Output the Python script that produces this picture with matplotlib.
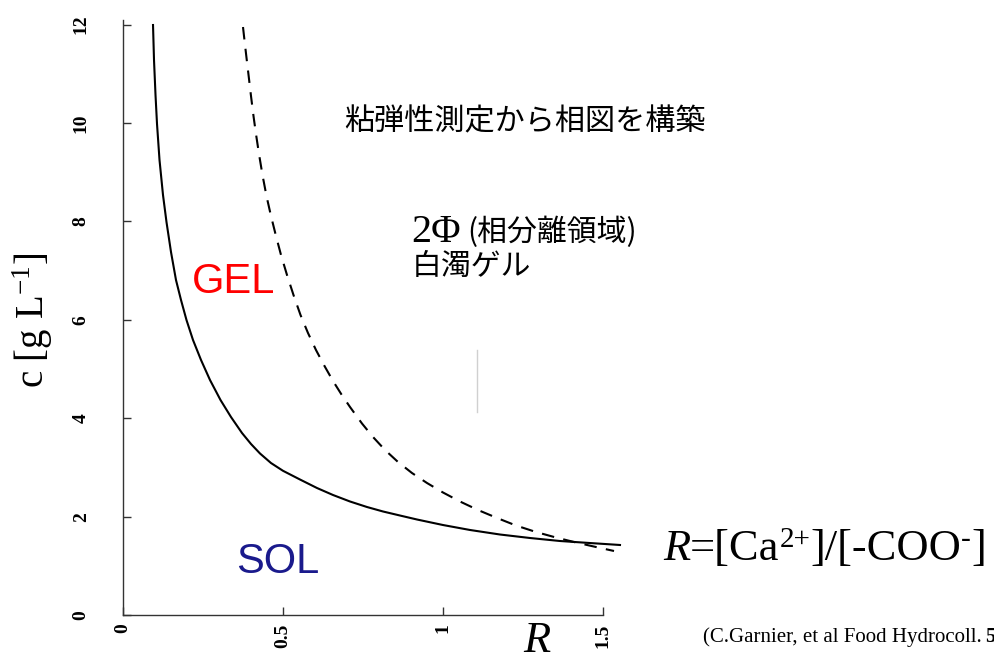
import matplotlib
matplotlib.use("Agg")
import matplotlib.pyplot as plt
import numpy as np

# ---- data ----
# solid line: sol-gel boundary
sol_R = [0.0938, 0.0969, 0.1016, 0.1063, 0.1141, 0.125, 0.1359, 0.150, 0.1656, 0.1813,
         0.1984, 0.2188, 0.2438, 0.2719, 0.3047, 0.3375, 0.3719, 0.400, 0.4281, 0.4625,
         0.500, 0.5531, 0.6063, 0.6563, 0.7094, 0.7625, 0.8125, 0.8656, 0.9188, 1.000,
         1.0844, 1.1781, 1.2719, 1.3656, 1.4594, 1.5531]
sol_c = [11.992, 11.280, 10.569, 9.980, 9.248, 8.537, 7.988, 7.378, 6.809, 6.402,
         5.996, 5.589, 5.183, 4.776, 4.370, 4.024, 3.699, 3.476, 3.283, 3.089,
         2.931, 2.754, 2.581, 2.439, 2.307, 2.195, 2.104, 2.022, 1.941, 1.829,
         1.728, 1.636, 1.565, 1.504, 1.463, 1.423]

# dashed line: phase separation (2 Phi) boundary
phase_R = [0.375, 0.3813, 0.3875, 0.3938, 0.400, 0.4078, 0.4156, 0.425, 0.4359, 0.4484,
           0.4625, 0.4781, 0.4938, 0.5125, 0.5328, 0.5547, 0.5781, 0.6031, 0.6297, 0.6563,
           0.6828, 0.7094, 0.7469, 0.7813, 0.8188, 0.8594, 0.9031, 0.950, 1.000, 1.0531,
           1.1094, 1.1688, 1.2281, 1.2906, 1.3531, 1.4156, 1.4781, 1.5344]
phase_c = [11.951, 11.585, 11.240, 10.894, 10.549, 10.142, 9.776, 9.370, 8.943, 8.516,
           8.110, 7.703, 7.317, 6.911, 6.504, 6.098, 5.732, 5.386, 5.061, 4.756,
           4.482, 4.228, 3.892, 3.618, 3.354, 3.110, 2.886, 2.683, 2.490, 2.307,
           2.134, 1.972, 1.819, 1.687, 1.575, 1.474, 1.382, 1.301]

artifact_R = [1.106, 1.106]
artifact_c = [4.13, 5.39]

x_ticks = [0, 0.5, 1, 1.5]
x_ticklabels = ["0", "0.5", "1", "1.5"]
y_ticks = [0, 2, 4, 6, 8, 10, 12]
y_ticklabels = ["0", "2", "4", "6", "8", "10", "12"]

plt.rcParams['mathtext.fontset'] = 'custom'
plt.rcParams['mathtext.rm'] = 'Liberation Serif'
plt.rcParams['mathtext.it'] = 'Liberation Serif:italic'

W, H = 994, 664
fig = plt.figure(figsize=(W / 100, H / 100), dpi=100)
ax = fig.add_axes([123 / W, (H - 615) / H, 512 / W, 595.3 / H])
ax.set_xlim(0, 1.6)
ax.set_ylim(0, 12.1)

ax.plot(sol_R, sol_c, color='black', lw=1.5, solid_joinstyle='round')
ax.plot(phase_R, phase_c, color='black', lw=1.5, dashes=(6, 4.5))
ax.plot(artifact_R, artifact_c, color='#d0d0d0', lw=1.0)

for s in ['top', 'right']:
    ax.spines[s].set_visible(False)
ax.spines['left'].set_bounds(0, 12.1)
ax.spines['bottom'].set_bounds(0, 1.5)
for s in ['left', 'bottom']:
    ax.spines[s].set_color('#333333')
    ax.spines[s].set_linewidth(1.0)

ax.set_xticks(x_ticks)
ax.set_xticklabels(x_ticklabels, rotation=90, family='Liberation Serif',
                   fontsize=14, fontweight='bold')
ax.set_yticks(y_ticks)
ax.set_yticklabels(y_ticklabels, rotation=90, family='Liberation Serif',
                   fontsize=14, fontweight='bold', va='center')
ax.tick_params(axis='y', direction='in', length=6, width=1, pad=24, colors='#333333')
ax.tick_params(axis='x', direction='in', length=6, width=1, pad=6, colors='#333333')
for lab in ax.get_xticklabels() + ax.get_yticklabels():
    lab.set_color('black')


def fx(x):
    return x / W


def fy(y):
    return 1 - y / H


cjk = ['Noto Sans CJK JP', 'DejaVu Sans']

fig.text(fx(344), fy(130), "粘弾性測定から相図を構築", family=cjk, fontsize=21.7,
         ha='left', va='baseline', color='black')
fig.text(fx(411), fy(242), "2Φ", family='Liberation Serif', fontsize=29,
         ha='left', va='baseline', color='black')
fig.text(fx(467), fy(241), "(相分離領域)", family=cjk, fontsize=21.5,
         ha='left', va='baseline', color='black')
fig.text(fx(412), fy(275), "白濁ゲル", family=cjk, fontsize=21.5,
         ha='left', va='baseline', color='black')

fig.text(fx(192), fy(293), "GEL", family='Liberation Sans', fontsize=30,
         ha='left', va='baseline', color='#ff0000')
fig.text(fx(236), fy(573), "SOL", family='Liberation Sans', fontsize=30,
         ha='left', va='baseline', color='#1a1a8c')

# R=[Ca2+]/[-COO-] built from pieces
renderer = fig.canvas.get_renderer()
pieces = [("R", 32, 'italic', 0), ("=[Ca", 32, 'normal', 0), ("2+", 21, 'normal', 13),
          ("]/[-COO", 32, 'normal', 0), ("-", 21, 'normal', 13), ("]", 32, 'normal', 0)]
xcur = 663.0
for s, fs, st, dy in pieces:
    t = fig.text(fx(xcur), fy(560 - dy), s, family='Liberation Serif', fontsize=fs,
                 style=st, ha='left', va='baseline', color='black')
    bb = t.get_window_extent(renderer)
    xcur += bb.width

fig.text(fx(537), fy(652), "R", family='Liberation Serif', style='italic',
         fontsize=32, ha='center', va='baseline', color='black')

fig.text(fx(33), fy(320), r"c [g L$^{-1}$]", family='Liberation Serif',
         fontsize=28, rotation=90, ha='center', va='center', color='black')

fig.text(fx(703), fy(642), "(C.Garnier, et al Food Hydrocoll.", family='Liberation Serif',
         fontsize=15, ha='left', va='baseline', color='black')
fig.text(fx(985), fy(642), "5", family='Liberation Serif', fontweight='bold',
         fontsize=15, ha='left', va='baseline', color='black')

fig.savefig("out.png", dpi=100)
